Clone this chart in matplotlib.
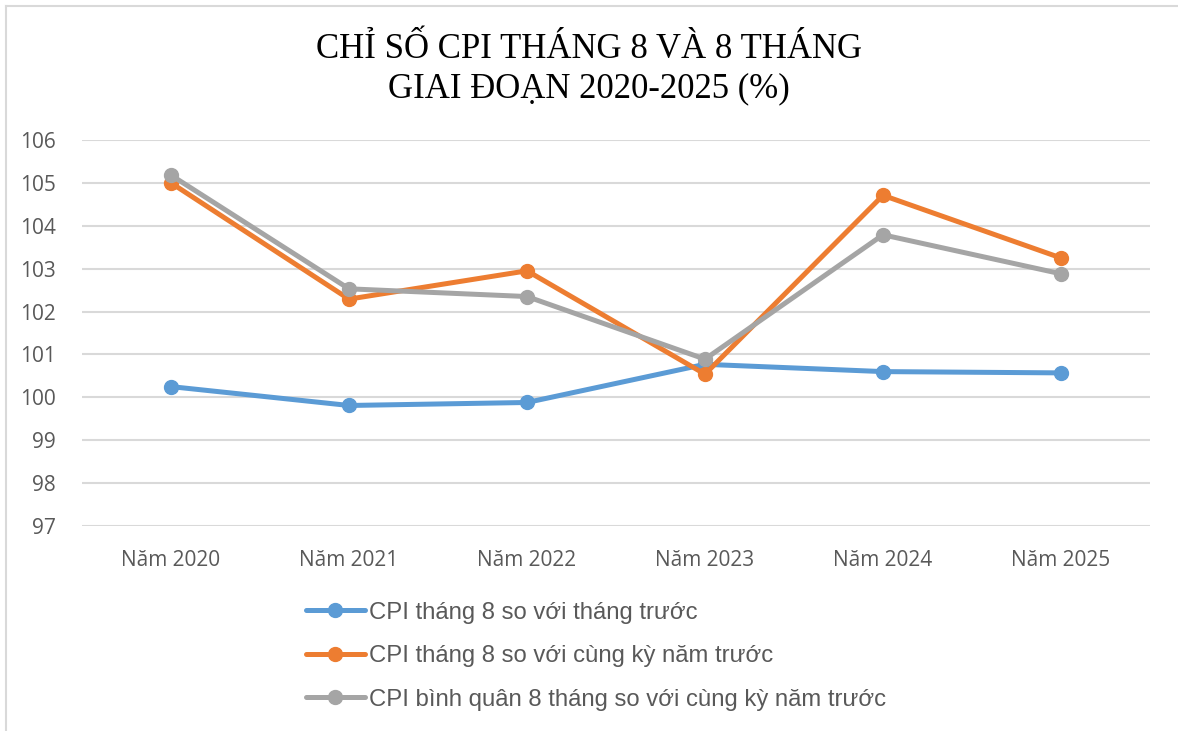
import numpy as np
import matplotlib
matplotlib.use("Agg")
from matplotlib import pyplot as plt
from matplotlib.lines import Line2D

# -- data ----------------------------------------------------------------
years = ["Năm 2020", "Năm 2021", "Năm 2022", "Năm 2023", "Năm 2024", "Năm 2025"]
cpi_mom = [100.25, 99.81, 99.88, 100.77, 100.60, 100.57]
cpi_yoy = [105.00, 102.29, 102.95, 100.54, 104.71, 103.25]
cpi_avg8 = [105.18, 102.53, 102.35, 100.89, 103.79, 102.88]

labels = ["CPI tháng 8 so với tháng trước",
          "CPI tháng 8 so với cùng kỳ năm trước",
          "CPI bình quân 8 tháng so với cùng kỳ năm trước"]
colors = ["#5B9BD5", "#ED7D31", "#A5A5A5"]

W, H = 1178, 731
fig = plt.figure(figsize=(W / 100, H / 100), dpi=100, facecolor="white")
ax = fig.add_axes([82 / W, 1 - 526 / H, (1150 - 82) / W, (526 - 140) / H])

x = np.arange(len(years))
lines = []
for vals, c, lab in zip([cpi_mom, cpi_yoy, cpi_avg8], colors, labels):
    l, = ax.plot(x, vals, color=c, lw=3.6, marker="o", ms=10,
                 solid_capstyle="round", label=lab)
    lines.append(l)

ax.set_xlim(-0.5, len(years) - 0.5)
ax.set_ylim(97, 106)
ax.set_yticks(range(97, 107))
ax.set_xticks(x)
ax.set_xticklabels(years)
ax.grid(axis="y", color="#D9D9D9", lw=1.5)
ax.set_axisbelow(True)
for s in ax.spines.values():
    s.set_visible(False)
ax.tick_params(axis="both", length=0, colors="#595959", labelsize=15)
ax.tick_params(axis="y", pad=19)
ax.tick_params(axis="x", pad=17)
for t in ax.get_xticklabels() + ax.get_yticklabels():
    t.set_family("Open Sans")

fig.text(0.5, 1 - 49 / H, "CHỈ SỐ CPI THÁNG 8 VÀ 8 THÁNG",
         ha="center", va="center", family="Liberation Serif", fontsize=25)
fig.text(0.5, 1 - 89 / H, "GIAI ĐOẠN 2020-2025 (%)",
         ha="center", va="center", family="Liberation Serif", fontsize=25)

fig.legend(handles=lines, loc="upper left", bbox_to_anchor=(296 / W, 1 - 592 / H),
           frameon=False, ncol=1, handlelength=2.5, handletextpad=0.15,
           labelspacing=0.9, borderaxespad=0,
           prop={"family": "Liberation Sans", "size": 17.2},
           labelcolor="#595959")

# chart border (only top and left edges are visible, the rest is cropped)
fig.lines.append(Line2D([6 / W, 1], [1 - 5.5 / H, 1 - 5.5 / H],
                        transform=fig.transFigure, color="#D9D9D9", lw=1.5))
fig.lines.append(Line2D([6 / W, 6 / W], [0, 1 - 5.5 / H],
                        transform=fig.transFigure, color="#D9D9D9", lw=1.5))

fig.savefig("out.png", dpi=100, facecolor="white")
